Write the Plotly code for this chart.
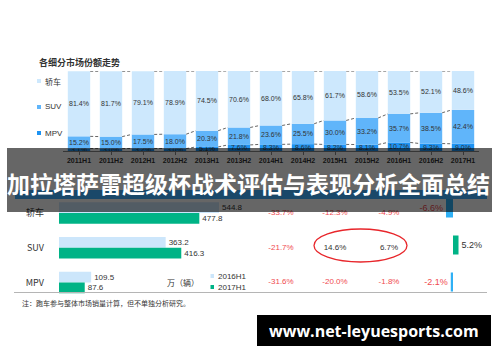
import plotly.graph_objects as go

# ---------------- data ----------------
periods = ["2011H1", "2011H2", "2012H1", "2012H2", "2013H1", "2013H2", "2014H1",
           "2014H2", "2015H1", "2015H2", "2016H1", "2016H2", "2017H1"]
share_sedan = [81.4, 81.7, 79.1, 78.9, 74.5, 70.6, 68.0, 65.8, 61.7, 58.6, 53.5, 52.1, 48.6]
share_suv = [15.2, 15.0, 17.5, 18.0, 20.3, 21.8, 23.6, 25.5, 30.0, 33.2, 35.7, 38.5, 42.4]
share_mpv = [3.1, 3.0, 3.2, 3.0, 5.1, 7.6, 8.3, 8.6, 8.2, 8.1, 10.7, 9.3, 9.0]

segments = ["轿车", "SUV", "MPV"]
sales_2016h1 = [544.8, 363.2, 109.5]
sales_2017h1 = [477.8, 416.3, 87.6]

growth_col1 = [-33.7, -21.7, -31.6]
growth_col2 = [-12.3, 14.6, -20.0]
growth_col3 = [-4.9, 6.7, -1.8]

share_change = [-6.6, 5.2, -2.1]

# ---------------- styles ----------------
C_SEDAN = "#cde8fd"
C_SUV = "#60b5fa"
C_MPV = "#1d93f3"
C_16 = "#cce6fb"
C_17 = "#00b386"
C_NEG_BAR = "#2fb0f5"
RED = "#f04a4f"
DARK = "#333333"
FONT = "Liberation Sans, Noto Sans CJK SC"
CJK = "Noto Sans CJK SC"

W, H = 500, 362
def px(x):
    return x / W
def py(y):
    return 1 - y / H

fig = go.Figure()

xi = list(range(len(periods)))
bw = 0.7
base = [0.0] * len(periods)
for name, vals, col in [("MPV", share_mpv, C_MPV), ("SUV", share_suv, C_SUV), ("轿车", share_sedan, C_SEDAN)]:
    fig.add_trace(go.Bar(
        x=xi, y=vals, base=list(base), name=name, marker=dict(color=col, line=dict(width=0)),
        width=bw, offset=-bw / 2,
        text=[f"{v:.1f}%" for v in vals], textposition="inside", insidetextanchor="middle",
        textangle=0, constraintext="none", cliponaxis=False,
        textfont=dict(size=7, color=DARK, family=FONT),
        xaxis="x", yaxis="y", showlegend=False, hoverinfo="skip"))
    base = [b + v for b, v in zip(base, vals)]

# dashed connectors between bars at segment boundaries
lvl_mpv = share_mpv
lvl_suv = [a + b for a, b in zip(share_mpv, share_suv)]
lvl_top = [a + b + c for a, b, c in zip(share_mpv, share_suv, share_sedan)]
for lvl in (lvl_mpv, lvl_suv, lvl_top):
    cx, cy = [], []
    for i in range(len(lvl) - 1):
        cx += [i + bw / 2, i + 1 - bw / 2, None]
        cy += [lvl[i], lvl[i + 1], None]
    fig.add_trace(go.Scatter(x=cx, y=cy, mode="lines", line=dict(color="#666", width=1, dash="3px,2px"),
                             xaxis="x", yaxis="y", showlegend=False, hoverinfo="skip", cliponaxis=False))

# lower horizontal bars (paired)
pair_w = 0.31
for name, vals, col, off in [("2016H1", sales_2016h1, C_16, -pair_w), ("2017H1", sales_2017h1, C_17, 0.0)]:
    fig.add_trace(go.Bar(
        y=segments, x=vals, orientation="h", name=name, marker=dict(color=col, line=dict(width=0)),
        width=pair_w, offset=off,
        text=[f"{v:.1f}" for v in vals], textposition="outside", cliponaxis=False,
        constraintext="none", textfont=dict(size=8, color=DARK, family=FONT),
        xaxis="x2", yaxis="y2", showlegend=False, hoverinfo="skip"))

# growth columns as text
gx, gy, gt, gc = [], [], [], []
for ci, col in enumerate([growth_col1, growth_col2, growth_col3]):
    for ri, v in enumerate(col):
        gx.append(ci)
        gy.append(segments[ri])
        gt.append(f"{v:.1f}%")
        gc.append(RED if v < 0 else DARK)
fig.add_trace(go.Scatter(x=gx, y=gy, mode="text", text=gt,
                         textfont=dict(size=8, color=gc, family=FONT),
                         xaxis="x4", yaxis="y2", showlegend=False, hoverinfo="skip"))

# share change mini bars
fig.add_trace(go.Bar(
    y=segments, x=share_change, orientation="h", width=0.52,
    marker=dict(color=[C_NEG_BAR if v < 0 else C_17 for v in share_change], line=dict(width=0)),
    text=[f"{v:.1f}%" for v in share_change], textposition="outside", cliponaxis=False,
    constraintext="none",
    textfont=dict(size=9, color=[RED if v < 0 else DARK for v in share_change], family=FONT),
    xaxis="x3", yaxis="y3", showlegend=False, hoverinfo="skip"))

# ---------------- layout ----------------
fig.update_layout(
    width=W, height=H, autosize=False,
    margin=dict(l=0, r=0, t=0, b=0),
    paper_bgcolor="white", plot_bgcolor="white",
    font=dict(family=FONT, size=8, color=DARK),
    barmode="overlay",
    xaxis=dict(domain=[px(63), px(479)], range=[-0.5, 12.5], tickvals=xi,
               ticktext=[f"<b>{p}</b>" for p in periods], tickfont=dict(size=7, color=DARK),
               showline=True, linecolor="#888", ticks="outside", ticklen=3, tickcolor="#888",
               showgrid=False, zeroline=False, anchor="y", fixedrange=True),
    yaxis=dict(domain=[py(151), py(71)], range=[0, 100], visible=False, fixedrange=True),
    xaxis2=dict(domain=[px(59), px(250)], range=[0, 191 / 0.2937], visible=False, anchor="y2"),
    yaxis2=dict(domain=[py(299.75), py(195.75)], type="category", categoryorder="array",
                categoryarray=segments, range=[2.5, -0.5], showline=False, showgrid=False,
                zeroline=False, ticks="", ticklabelstandoff=14,
                tickfont=dict(size=9, color=DARK, family=CJK), anchor="x2"),
    xaxis3=dict(domain=[px(420), px(492)], range=[(420 - 453) / 1.06, (492 - 453) / 1.06],
                visible=False, anchor="y3"),
    yaxis3=dict(domain=[py(300.5), py(189.5)], type="category", categoryorder="array",
                categoryarray=segments, range=[2.5, -0.5], visible=False, anchor="x3"),
    xaxis4=dict(domain=[px(254), px(416)], range=[-0.5, 2.5], visible=False, anchor="y2"),
)

shapes = [
    # dark overlay
    dict(type="rect", xref="paper", yref="paper", x0=px(7), x1=px(492), y0=py(212), y1=py(148),
         fillcolor="rgba(0,0,0,0.6)", line=dict(width=0), layer="above"),
    # navy band
    dict(type="rect", xref="paper", yref="paper", x0=px(15), x1=px(487), y0=py(199), y1=py(190),
         fillcolor="#1a4869", line=dict(width=0), layer="above"),
    # red ellipse
    dict(type="circle", xref="paper", yref="paper", x0=px(314), x1=px(407), y0=py(262), y1=py(229),
         line=dict(color="#e8262b", width=1.3), fillcolor="rgba(0,0,0,0)", layer="above"),
    # bottom separator
    dict(type="line", xref="paper", yref="paper", x0=px(14), x1=px(487), y0=py(292.5), y1=py(292.5),
         line=dict(color="#b5b5b5", width=1), layer="above"),
    # url box
    dict(type="rect", xref="paper", yref="paper", x0=px(257), x1=px(491), y0=py(346), y1=py(315),
         fillcolor="black", line=dict(width=0), layer="above"),
]
# legend swatches
for yy, col in [(81, C_SEDAN), (107, C_SUV), (133, C_MPV)]:
    shapes.append(dict(type="rect", xref="paper", yref="paper", x0=px(37), x1=px(41),
                       y0=py(yy + 2), y1=py(yy - 2), fillcolor=col, line=dict(width=0)))
for yy, col in [(276, C_16), (287, C_17)]:
    shapes.append(dict(type="rect", xref="paper", yref="paper", x0=px(210.5), x1=px(214),
                       y0=py(yy + 2), y1=py(yy - 2), fillcolor=col, line=dict(width=0)))
fig.update_layout(shapes=shapes)

ann = [
    dict(text="<b>各细分市场份额走势</b>", x=px(37), y=py(62), xanchor="left", yanchor="middle",
         font=dict(size=9, color=DARK, family=CJK)),
    dict(text="轿车", x=px(43), y=py(81), xanchor="left", yanchor="middle", font=dict(size=8, family=CJK)),
    dict(text="SUV", x=px(43), y=py(107), xanchor="left", yanchor="middle", font=dict(size=8)),
    dict(text="MPV", x=px(43), y=py(133), xanchor="left", yanchor="middle", font=dict(size=8)),
    dict(text="2016H1", x=px(216), y=py(276), xanchor="left", yanchor="middle", font=dict(size=8)),
    dict(text="2017H1", x=px(216), y=py(287), xanchor="left", yanchor="middle", font=dict(size=8)),
    dict(text="万（辆）", x=px(183), y=py(282), xanchor="center", yanchor="middle",
         font=dict(size=8, family=CJK)),
    dict(text="注：跑车参与整体市场销量计算，但不单独分析研究。", x=px(20), y=py(303), xanchor="left",
         yanchor="middle", font=dict(size=7, color=DARK, family=CJK)),
    dict(text="<b>加拉塔萨雷超级杯战术评估与表现分析全面总结</b>", x=px(248), y=py(183),
         xanchor="center", yanchor="middle", font=dict(size=23, color="white", family=CJK)),
    dict(text="<b>www.net-leyuesports.com</b>", x=px(374), y=py(331), xanchor="center",
         yanchor="middle", font=dict(size=16, color="white", family="Open Sans")),
]
for a in ann:
    a.update(xref="paper", yref="paper", showarrow=False)
fig.update_layout(annotations=ann)

fig.write_html("out.html", config={"displayModeBar": False},
               post_script="document.body.style.margin='0';")
